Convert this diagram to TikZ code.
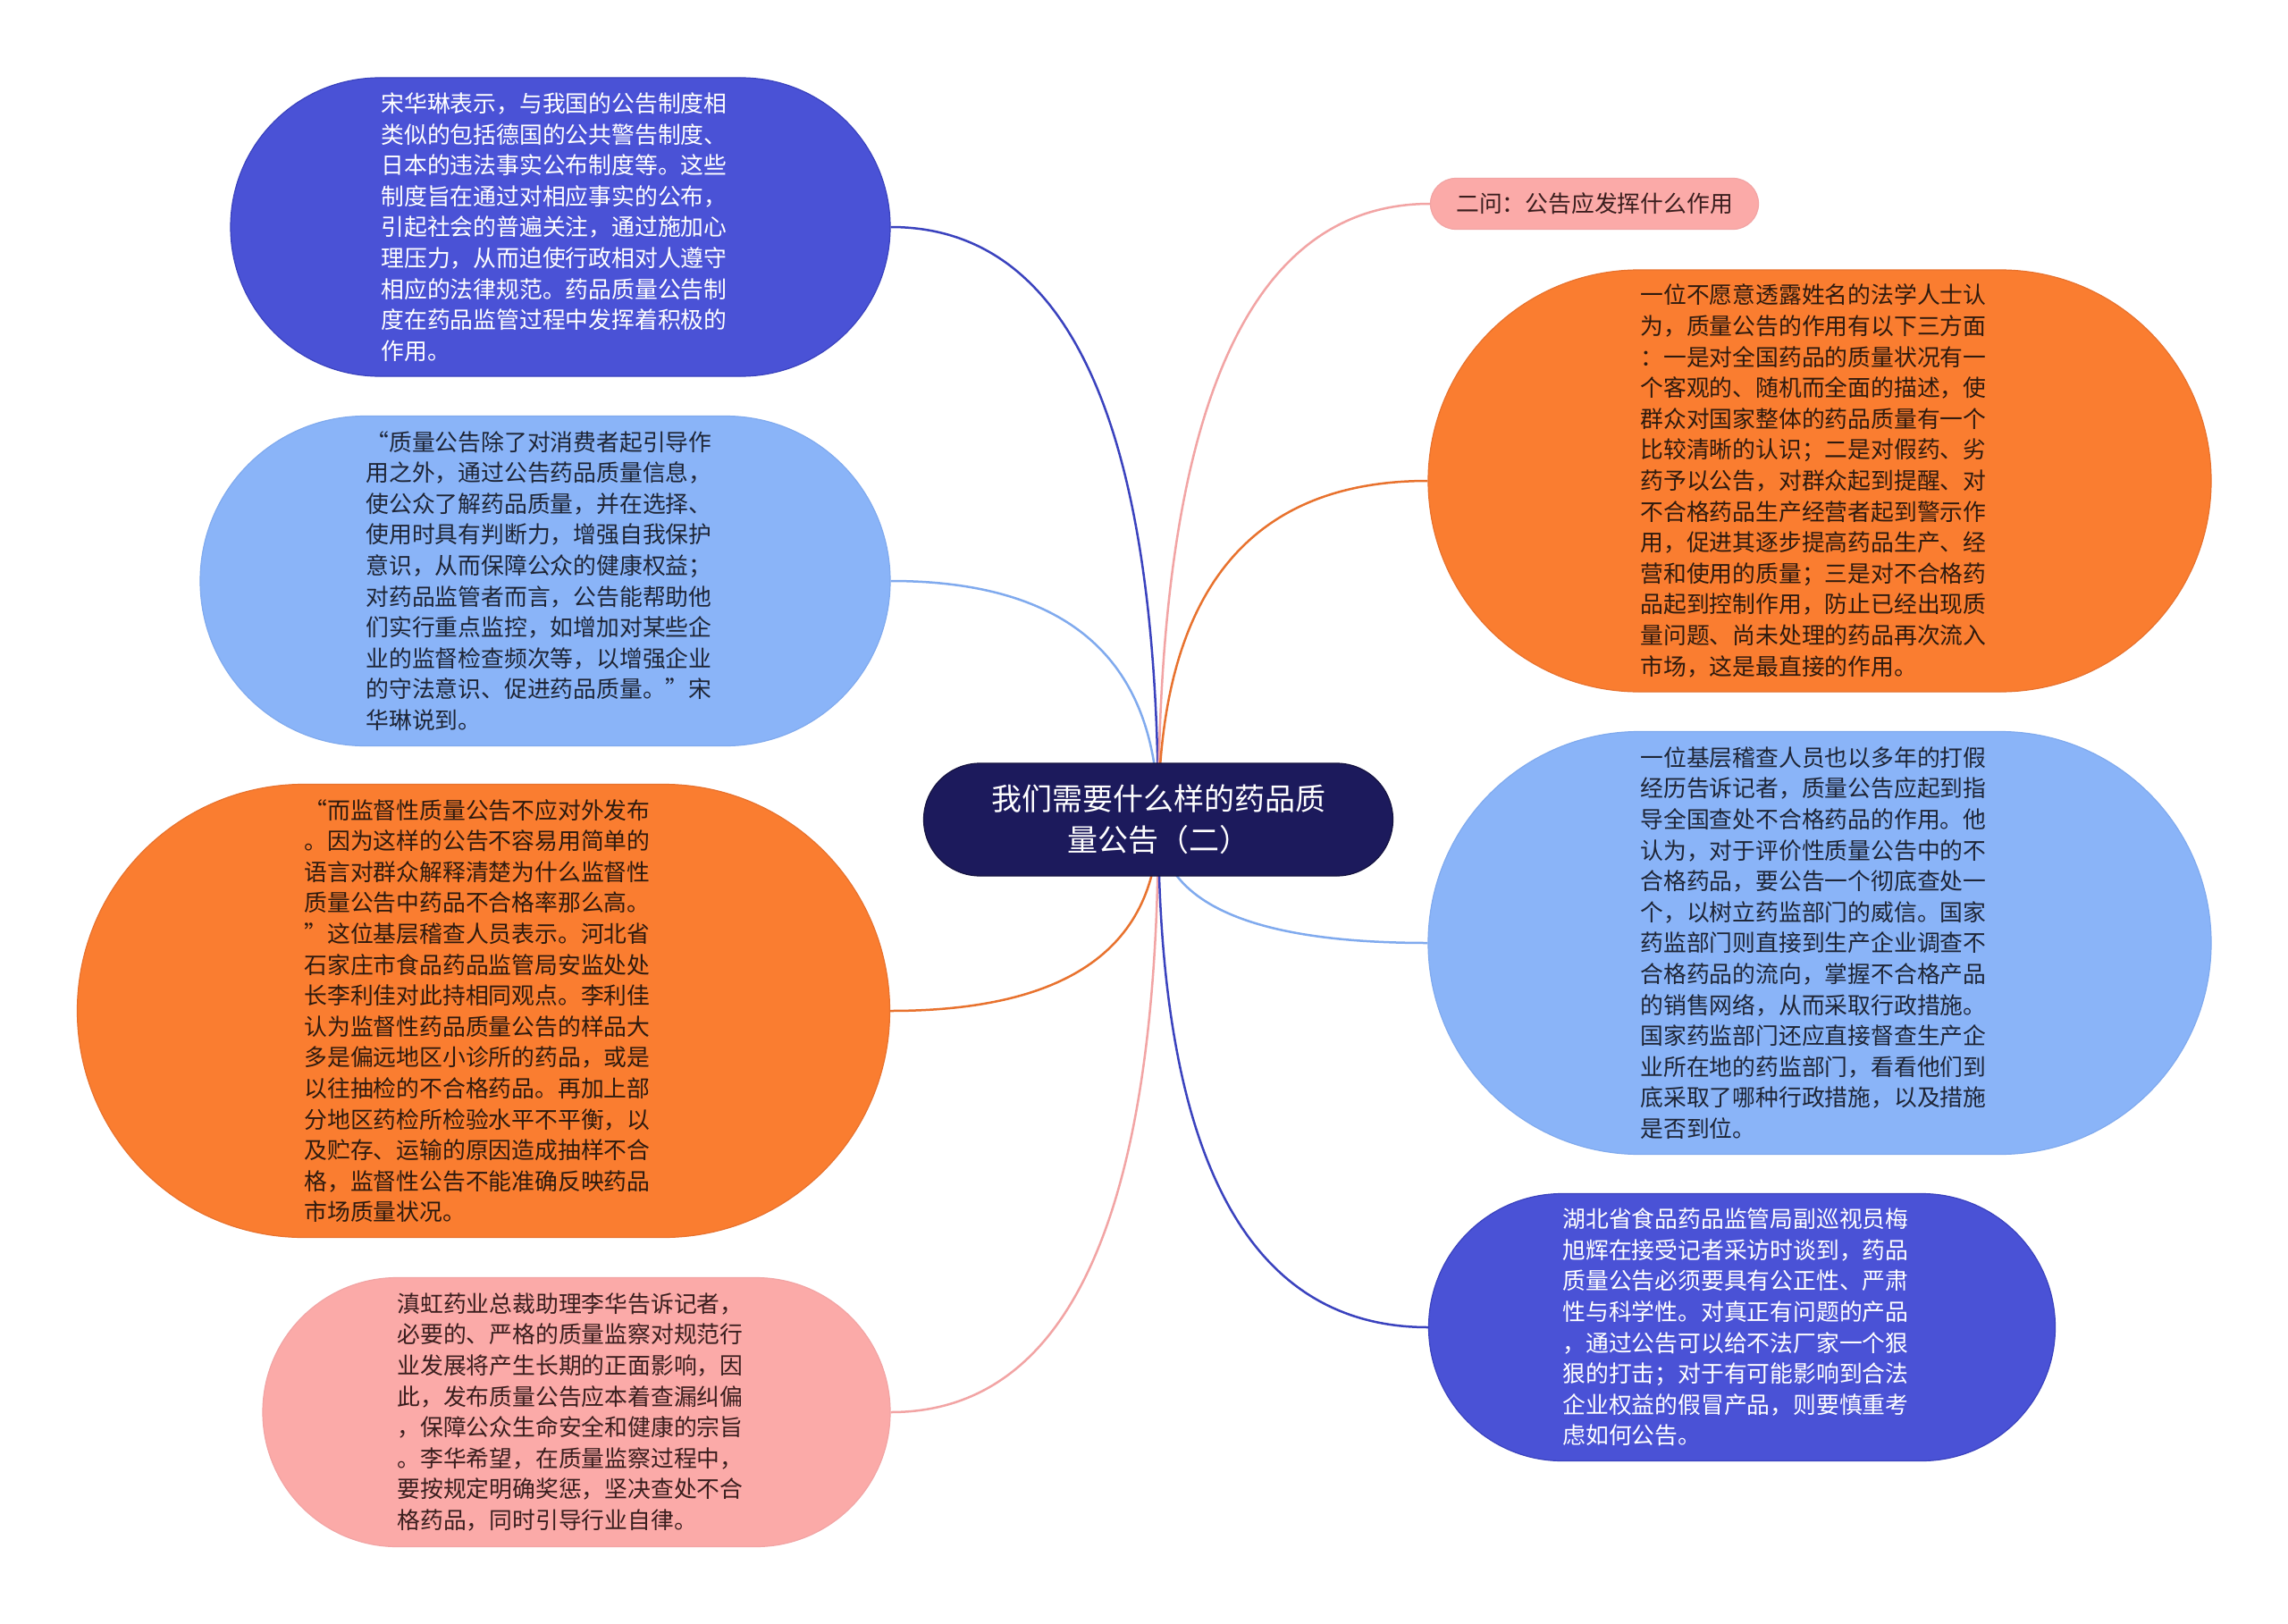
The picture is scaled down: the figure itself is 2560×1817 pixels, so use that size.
\documentclass[tikz,border=0pt]{standalone}
\usepackage{fontspec}
\usetikzlibrary{shapes.misc,backgrounds,calc}
\newfontfamily\cjk{Noto Sans CJK SC}
\newcommand\mybody{\cjk\fontsize{25.8}{34.6}\selectfont}
\newcommand\mytitle{\cjk\fontsize{34}{46}\selectfont}
\newcommand\pad{\kern14pt}
\definecolor{dbfill}{HTML}{4A52D6}
\definecolor{dbline}{HTML}{3A42BE}
\definecolor{lbfill}{HTML}{8AB4F8}
\definecolor{lbline}{HTML}{80AAEE}
\definecolor{orfill}{HTML}{FA7D30}
\definecolor{orline}{HTML}{E8722E}
\definecolor{pkfill}{HTML}{FBAAA8}
\definecolor{pkline}{HTML}{F2A4A4}
\definecolor{cnfill}{HTML}{1C1A5C}
\definecolor{ortext}{HTML}{2E1A0E}
\definecolor{lbtext}{HTML}{1E2536}
\definecolor{pktext}{HTML}{3A1E1E}
\tikzset{
  bubble/.style={shape=rounded rectangle, inner sep=0pt, align=left, font=\mybody, line width=1.2pt},
  bdark/.style={bubble, fill=dbfill, draw=dbline, text=white},
  blight/.style={bubble, fill=lbfill, draw=lbline, text=lbtext},
  borange/.style={bubble, fill=orfill, draw=orline, text=ortext},
  bpink/.style={bubble, fill=pkfill, draw=pkline, text=pktext},
  link/.style={line width=2.5pt},
}
% quadratic-like branch from #1 to #2 (corner at x of #1, y of #2)
\newcommand\branch[3]{%
  \draw[link,#3] (#1.center) .. controls ($(#1.center)!0.667!(#1.center |- #2)$) and ($(#2)!0.667!(#1.center |- #2)$) .. (#2);}
\begin{document}
\begin{tikzpicture}[x=1pt,y=-1pt]
\useasboundingbox (0,0) rectangle (2560,1817);

\node[shape=rounded rectangle, fill=cnfill, draw=cnfill!70!black, line width=1.2pt, text=white, font=\mytitle, align=center, inner sep=0pt, minimum width=525pt, minimum height=126pt] (c) at (1296,917) {我们需要什么样的药品质\\量公告（二）};

\node[bdark, minimum width=738pt, minimum height=334pt] (n1) at (627,254) {宋华琳表示，与我国的公告制度相\pad\\
类似的包括德国的公共警告制度、\\
日本的违法事实公布制度等。这些\\
制度旨在通过对相应事实的公布，\\
引起社会的普遍关注，通过施加心\\
理压力，从而迫使行政相对人遵守\\
相应的法律规范。药品质量公告制\\
度在药品监管过程中发挥着积极的\\
作用。};

\node[blight, minimum width=772pt, minimum height=369pt] (n2) at (610,650) {“质量公告除了对消费者起引导作\pad\\
用之外，通过公告药品质量信息，\\
使公众了解药品质量，并在选择、\\
使用时具有判断力，增强自我保护\\
意识，从而保障公众的健康权益；\\
对药品监管者而言，公告能帮助他\\
们实行重点监控，如增加对某些企\\
业的监督检查频次等，以增强企业\\
的守法意识、促进药品质量。”宋\\
华琳说到。};

\node[borange, minimum width=909pt, minimum height=507pt] (n3) at (541,1131) {“而监督性质量公告不应对外发布\pad\\
。因为这样的公告不容易用简单的\\
语言对群众解释清楚为什么监督性\\
质量公告中药品不合格率那么高。\\
”这位基层稽查人员表示。河北省\\
石家庄市食品药品监管局安监处处\\
长李利佳对此持相同观点。李利佳\\
认为监督性药品质量公告的样品大\\
多是偏远地区小诊所的药品，或是\\
以往抽检的不合格药品。再加上部\\
分地区药检所检验水平不平衡，以\\
及贮存、运输的原因造成抽样不合\\
格，监督性公告不能准确反映药品\\
市场质量状况。};

\node[bpink, minimum width=702pt, minimum height=301pt] (n4) at (645,1580) {滇虹药业总裁助理李华告诉记者，\pad\\
必要的、严格的质量监察对规范行\\
业发展将产生长期的正面影响，因\\
此，发布质量公告应本着查漏纠偏\\
，保障公众生命安全和健康的宗旨\\
。李华希望，在质量监察过程中，\\
要按规定明确奖惩，坚决查处不合\\
格药品，同时引导行业自律。};

\node[bpink, minimum width=367pt, minimum height=57pt] (n5) at (1784,228) {二问：公告应发挥什么作用};

\node[borange, minimum width=876pt, minimum height=472pt] (n6) at (2036,538) {一位不愿意透露姓名的法学人士认\pad\\
为，质量公告的作用有以下三方面\\
：一是对全国药品的质量状况有一\\
个客观的、随机而全面的描述，使\\
群众对国家整体的药品质量有一个\\
比较清晰的认识；二是对假药、劣\\
药予以公告，对群众起到提醒、对\\
不合格药品生产经营者起到警示作\\
用，促进其逐步提高药品生产、经\\
营和使用的质量；三是对不合格药\\
品起到控制作用，防止已经出现质\\
量问题、尚未处理的药品再次流入\\
市场，这是最直接的作用。};

\node[blight, minimum width=876pt, minimum height=473pt] (n7) at (2036,1055) {一位基层稽查人员也以多年的打假\pad\\
经历告诉记者，质量公告应起到指\\
导全国查处不合格药品的作用。他\\
认为，对于评价性质量公告中的不\\
合格药品，要公告一个彻底查处一\\
个，以树立药监部门的威信。国家\\
药监部门则直接到生产企业调查不\\
合格药品的流向，掌握不合格产品\\
的销售网络，从而采取行政措施。\\
国家药监部门还应直接督查生产企\\
业所在地的药监部门，看看他们到\\
底采取了哪种行政措施，以及措施\\
是否到位。};

\node[bdark, minimum width=701pt, minimum height=299pt] (n8) at (1949,1485) {湖北省食品药品监管局副巡视员梅\pad\\
旭辉在接受记者采访时谈到，药品\\
质量公告必须要具有公正性、严肃\\
性与科学性。对真正有问题的产品\\
，通过公告可以给不法厂家一个狠\\
狠的打击；对于有可能影响到合法\\
企业权益的假冒产品，则要慎重考\\
虑如何公告。};

\begin{scope}[on background layer]
\fill[white] (0,0) rectangle (2560,1817);
\branch{c}{n1.east}{dbline}
\branch{c}{n2.east}{lbline}
\branch{c}{n3.east}{orline}
\branch{c}{n4.east}{pkline}
\branch{c}{n5.west}{pkline}
\branch{c}{n6.west}{orline}
\branch{c}{n7.west}{lbline}
\branch{c}{n8.west}{dbline}
\end{scope}
\end{tikzpicture}
\end{document}
